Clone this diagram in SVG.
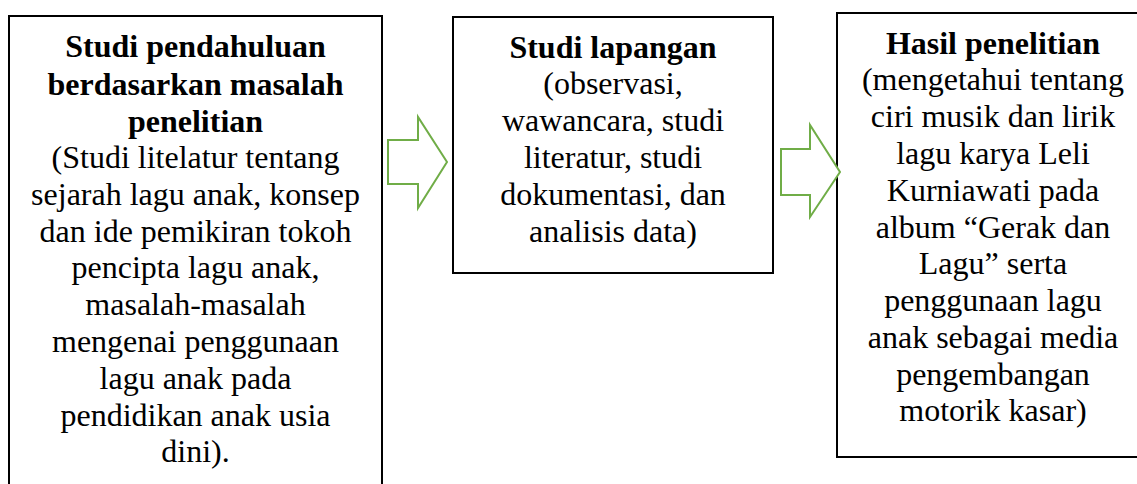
<svg xmlns="http://www.w3.org/2000/svg" width="1137" height="484" viewBox="0 0 1137 484">
<style>
.box{fill:#fff;stroke:#000;stroke-width:2}
.arrow{fill:#fff;stroke:#70AD47;stroke-width:2;stroke-linejoin:miter}
text{font-family:"Liberation Serif","Times New Roman",serif;font-size:32px;fill:#000;text-anchor:middle}
.b{font-weight:bold}
</style>
<rect width="1137" height="484" fill="#fff"/>
<g id="node1">
<rect class="box" x="9" y="16" width="373" height="480"/>
<text x="195.5" y="57"><tspan class="b">Studi pendahuluan</tspan><tspan class="b" x="195.5" dy="37.5">berdasarkan masalah</tspan><tspan class="b" x="195.5" dy="37.5">penelitian</tspan><tspan x="195.5" dy="36">(Studi litelatur tentang</tspan><tspan x="195.5" dy="36.8">sejarah lagu anak, konsep</tspan><tspan x="195.5" dy="36.8">dan ide pemikiran tokoh</tspan><tspan x="195.5" dy="36.8">pencipta lagu anak,</tspan><tspan x="195.5" dy="36.8">masalah-masalah</tspan><tspan x="195.5" dy="36.8">mengenai penggunaan</tspan><tspan x="195.5" dy="36.8">lagu anak pada</tspan><tspan x="195.5" dy="36.8">pendidikan anak usia</tspan><tspan x="195.5" dy="36.8">dini).</tspan></text>
</g>
<g id="node2">
<rect class="box" x="453" y="17" width="320" height="256"/>
<text x="613" y="57.5"><tspan class="b">Studi lapangan</tspan><tspan x="613" dy="36.8">(observasi,</tspan><tspan x="613" dy="36.8">wawancara, studi</tspan><tspan x="613" dy="36.8">literatur, studi</tspan><tspan x="613" dy="36.8">dokumentasi, dan</tspan><tspan x="613" dy="36.8">analisis data)</tspan></text>
</g>
<g id="node3">
<rect class="box" x="837" y="13" width="312" height="444"/>
<text x="993" y="53.5"><tspan class="b">Hasil penelitian</tspan><tspan x="993" dy="36.8">(mengetahui tentang</tspan><tspan x="993" dy="36.8">ciri musik dan lirik</tspan><tspan x="993" dy="36.8">lagu karya Leli</tspan><tspan x="993" dy="36.8">Kurniawati pada</tspan><tspan x="993" dy="36.8">album “Gerak dan</tspan><tspan x="993" dy="36.8">Lagu” serta</tspan><tspan x="993" dy="36.8">penggunaan lagu</tspan><tspan x="993" dy="36.8">anak sebagai media</tspan><tspan x="993" dy="36.8">pengembangan</tspan><tspan x="993" dy="36.8">motorik kasar)</tspan></text>
</g>
<g id="connectors">
<polygon class="arrow" points="388,140 418,140 418,117 447,162 418,208 418,184 388,184"/>
<polygon class="arrow" points="781,149 810,149 810,125 840,172 810,217 810,195 781,195"/>
</g>
</svg>
